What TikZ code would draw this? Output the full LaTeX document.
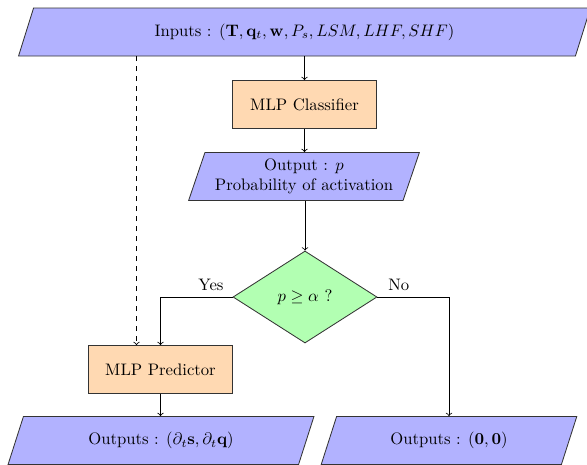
\documentclass[tikz,border=0pt]{standalone}
\usetikzlibrary{shapes.geometric}
\begin{document}
\begin{tikzpicture}[x=0.6pt,y=-0.6pt,
  io/.style={trapezium, trapezium left angle=70, trapezium right angle=110,
    trapezium stretches=true, draw=black!80, fill=blue!30, line width=0.5pt,
    minimum height=28.8pt, inner sep=2pt, align=center},
  proc/.style={rectangle, draw=black!80, fill=orange!30, line width=0.5pt,
    minimum width=86.4pt, minimum height=28.8pt},
  decision/.style={diamond, draw=black!80, fill=green!30, line width=0.5pt,
    minimum width=86.4pt, minimum height=55.2pt, inner sep=0pt},
  conn/.style={->, line width=0.5pt}]
\useasboundingbox (0,0) rectangle (587,465);
\clip (0,0) rectangle (587,465);
\node[io, minimum width=343.8pt] (in) at (304.5,32) {Inputs : $(\mathbf{T},\mathbf{q}_t,\mathbf{w},P_s,LSM,LHF,SHF)$};
\node[proc] (cls) at (304.5,104.5) {MLP Classifier};
\node[io, minimum width=138.6pt] (outp) at (304,176.5) {Output : $p$\\Probability of activation};
\node[decision] (dec) at (305,297) {$p \geq \alpha$ ?};
\node[proc] (pred) at (160.5,369.5) {MLP Predictor};
\node[io, minimum width=183.6pt] (outL) at (161,440.5) {Outputs : $(\partial_t \mathbf{s}, \partial_t \mathbf{q})$};
\node[io, minimum width=153.6pt] (outR) at (449,440.5) {Outputs : $(\mathbf{0},\mathbf{0})$};
\coordinate (dashx) at (136.5,0);
\coordinate (noturn) at (449,297);
\draw[conn] (cls.north |- in.south) -- (cls.north);
\draw[conn] (cls.south) -- (outp.north -| cls.south);
\draw[conn] (outp.south -| dec.north) -- (dec.north);
\draw[conn, dashed] (in.south -| dashx) -- (pred.north -| dashx);
\draw[conn] (dec.west) -- node[above, pos=0.3] {Yes} (dec.west -| pred.north) -- (pred.north);
\draw[conn] (dec.east) -- node[above, pos=0.3] {No} (noturn) -- (outR.north -| noturn);
\draw[conn] (pred.south) -- (outL.north -| pred.south);
\end{tikzpicture}
\end{document}
